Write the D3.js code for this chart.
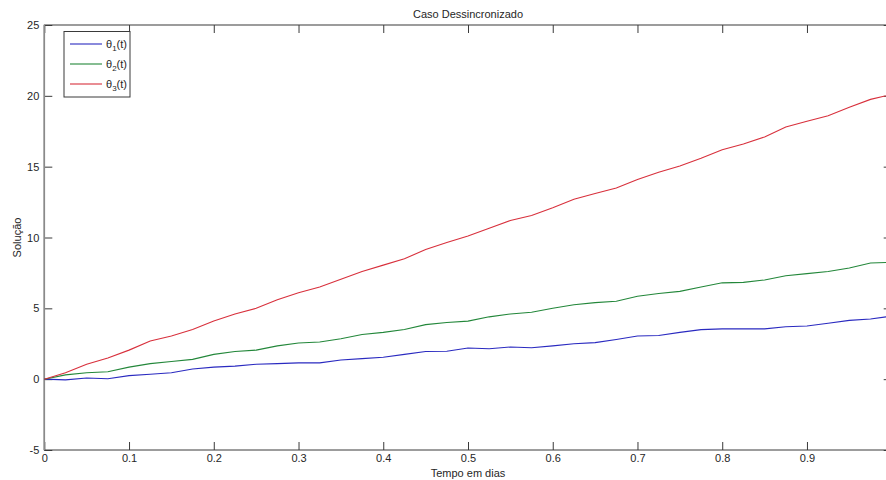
<!DOCTYPE html>
<html>
<head>
<meta charset="utf-8">
<script src="https://cdn.jsdelivr.net/npm/d3@7"></script>
<style>
  body { margin: 0; background: #fff; }
  svg { display: block; }
  text { font-family: "Liberation Sans", Arial, sans-serif; fill: #262626; }
</style>
</head>
<body>
<svg width="886" height="480"></svg>
<script>
// tempo (dias)
var tempo = [0, 0.025, 0.05, 0.075, 0.1, 0.125, 0.15, 0.175, 0.2, 0.225, 0.25, 0.275, 0.3, 0.325, 0.35,
  0.375, 0.4, 0.425, 0.45, 0.475, 0.5, 0.525, 0.55, 0.575, 0.6, 0.625, 0.65, 0.675, 0.7, 0.725, 0.75,
  0.775, 0.8, 0.825, 0.85, 0.875, 0.9, 0.925, 0.95, 0.975, 1.0];

var theta1 = [0, -0.05, 0.08, 0.03, 0.25, 0.35, 0.45, 0.72, 0.85, 0.92, 1.05, 1.1, 1.15, 1.15, 1.35,
  1.45, 1.55, 1.75, 1.95, 1.97, 2.2, 2.15, 2.27, 2.22, 2.35, 2.5, 2.58, 2.8, 3.05, 3.08, 3.3,
  3.5, 3.55, 3.55, 3.55, 3.7, 3.75, 3.95, 4.15, 4.25, 4.45];

var theta2 = [0, 0.3, 0.45, 0.52, 0.85, 1.1, 1.25, 1.4, 1.75, 1.95, 2.05, 2.35, 2.55, 2.62, 2.85,
  3.15, 3.3, 3.5, 3.85, 4.0, 4.1, 4.4, 4.6, 4.72, 5.0, 5.25, 5.4, 5.5, 5.85, 6.05, 6.2,
  6.5, 6.8, 6.83, 7.0, 7.3, 7.45, 7.6, 7.85, 8.2, 8.25];

var theta3 = [0, 0.45, 1.05, 1.5, 2.05, 2.7, 3.05, 3.5, 4.1, 4.6, 5.0, 5.6, 6.1, 6.5, 7.05,
  7.6, 8.05, 8.5, 9.15, 9.65, 10.1, 10.65, 11.2, 11.55, 12.1, 12.7, 13.1, 13.5, 14.1, 14.6, 15.05,
  15.6, 16.2, 16.6, 17.1, 17.8, 18.2, 18.6, 19.2, 19.75, 20.1];

var xTicks = [0, 0.1, 0.2, 0.3, 0.4, 0.5, 0.6, 0.7, 0.8, 0.9];
var yTicks = [-5, 0, 5, 10, 15, 20, 25];

var series = [
  {name: "1", values: theta1, color: "#2a2ac0"},
  {name: "2", values: theta2, color: "#23873a"},
  {name: "3", values: theta3, color: "#d8303c"}
];

var svg = d3.select("svg");
var pLeft = 44.3, pRight = 891.7, pTop = 25, pBottom = 450;

var x = d3.scaleLinear().domain([0, 1]).range([pLeft, pRight]);
var y = d3.scaleLinear().domain([-5, 25]).range([pBottom, pTop]);

// caixa
svg.append("rect")
    .attr("x", pLeft).attr("y", pTop)
    .attr("width", pRight - pLeft).attr("height", pBottom - pTop)
    .attr("fill", "none").attr("stroke", "#3a3a3a").attr("stroke-width", 1);

// hifen simples como no matlab
var fmt = function (d) { return String(d); };

svg.append("g")
    .attr("transform", "translate(0," + pBottom + ")")
    .call(d3.axisBottom(x).tickValues(xTicks).tickSize(-8).tickSizeOuter(0).tickPadding(4).tickFormat(fmt));
svg.append("g")
    .attr("transform", "translate(0," + pTop + ")")
    .call(d3.axisTop(x).tickValues(xTicks).tickSize(-8).tickSizeOuter(0).tickFormat(""));
svg.append("g")
    .attr("transform", "translate(" + pLeft + ",0)")
    .call(d3.axisLeft(y).tickValues(yTicks).tickSize(-8).tickSizeOuter(0).tickPadding(5).tickFormat(fmt));
svg.append("g")
    .attr("transform", "translate(" + pRight + ",0)")
    .call(d3.axisRight(y).tickValues(yTicks).tickSize(-8).tickSizeOuter(0).tickFormat(""));

svg.selectAll(".domain").remove();
svg.selectAll(".tick line").attr("stroke", "#3a3a3a");
svg.selectAll(".tick text").style("font-size", "11px").attr("fill", "#262626");
svg.append("line")
    .attr("x1", pLeft).attr("x2", pLeft).attr("y1", pTop).attr("y2", pBottom)
    .attr("stroke", "#8a8a8a").attr("stroke-width", 1.6);

// curvas
var line = d3.line()
    .x(function (d, i) { return x(tempo[i]); })
    .y(function (d) { return y(d); });

svg.selectAll(".serie")
    .data(series)
    .enter()
    .append("path")
    .attr("class", "serie")
    .attr("fill", "none")
    .attr("stroke", function (d) { return d.color; })
    .attr("stroke-width", 1.1)
    .attr("d", function (d) { return line(d.values); });

// titulos
svg.append("text")
    .attr("x", (pLeft + pRight) / 2).attr("y", 18)
    .attr("text-anchor", "middle")
    .style("font-size", "11px")
    .text("Caso Dessincronizado");

svg.append("text")
    .attr("x", (pLeft + pRight) / 2).attr("y", 477)
    .attr("text-anchor", "middle")
    .style("font-size", "11px")
    .text("Tempo em dias");

svg.append("text")
    .attr("transform", "translate(21," + (pTop + pBottom) / 2 + ") rotate(-90)")
    .attr("text-anchor", "middle")
    .style("font-size", "11px")
    .text("Solução");

// legenda
var legend = svg.append("g");
legend.append("rect")
    .attr("x", 64).attr("y", 31.5)
    .attr("width", 66).attr("height", 65.5)
    .attr("fill", "#fff").attr("stroke", "#3a3a3a");

var item = legend.selectAll(".item")
    .data(series)
    .enter()
    .append("g")
    .attr("class", "item")
    .attr("transform", function (d, i) { return "translate(0," + (44 + i * 20) + ")"; });

item.append("line")
    .attr("x1", 70).attr("x2", 102)
    .attr("stroke", function (d) { return d.color; })
    .attr("stroke-width", 1.1);

var label = item.append("text")
    .attr("x", 106).attr("y", 4)
    .style("font-size", "11px");
label.append("tspan").text("θ");
label.append("tspan").attr("dy", 3).style("font-size", "8px").text(function (d) { return d.name; });
label.append("tspan").attr("dy", -3).text("(t)");
</script>
</body>
</html>
